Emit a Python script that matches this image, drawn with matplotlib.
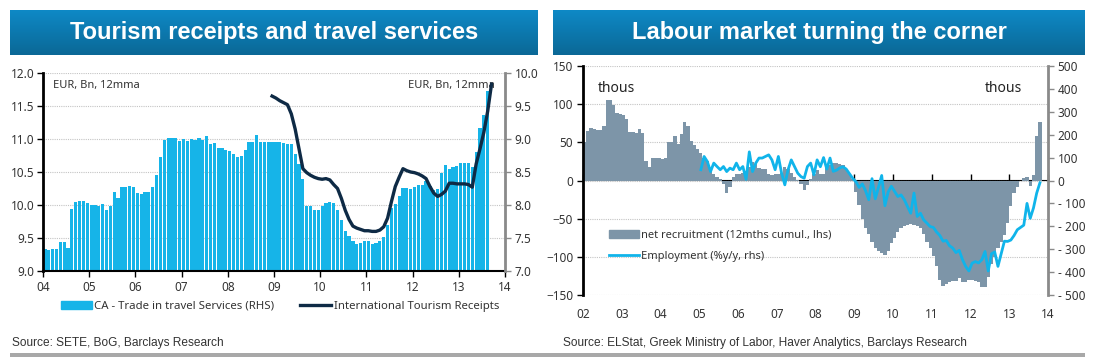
import matplotlib
matplotlib.use("Agg")
import matplotlib.pyplot as plt
import numpy as np
from matplotlib.colors import LinearSegmentedColormap
from matplotlib.ticker import FuncFormatter, MultipleLocator, NullFormatter
from matplotlib.patches import Patch, Rectangle
from matplotlib.lines import Line2D

# ---------------- data ----------------
# Left chart: monthly, Jan 2004 - Aug 2013 (EUR bn, 12mma)
travel_services = [
    9.33, 9.32, 9.33, 9.34, 9.44, 9.44, 9.35, 9.94, 10.04, 10.06, 10.06, 10.03,
    10.00, 10.00, 9.99, 10.02, 9.93, 9.99, 10.20, 10.11, 10.27, 10.28, 10.29, 10.28,
    10.18, 10.17, 10.20, 10.19, 10.27, 10.46, 10.73, 10.98, 11.02, 11.02, 11.01, 10.97,
    11.00, 10.97, 11.00, 10.98, 11.01, 10.98, 11.05, 10.93, 10.94, 10.86, 10.86, 10.84,
    10.82, 10.78, 10.73, 10.74, 10.84, 10.95, 10.95, 11.06, 10.96, 10.96, 10.95, 10.95,
    10.95, 10.96, 10.94, 10.93, 10.92, 10.77, 10.62, 10.40, 9.98, 9.98, 9.93, 9.93,
    9.98, 10.03, 10.05, 10.03, 9.92, 9.77, 9.61, 9.53, 9.45, 9.41, 9.43, 9.46,
    9.45, 9.41, 9.43, 9.45, 9.51, 9.70, 9.95, 10.02, 10.14, 10.26, 10.26, 10.24,
    10.28, 10.30, 10.30, 10.36, 10.29, 10.23, 10.24, 10.48, 10.60, 10.54, 10.57, 10.59,
    10.63, 10.64, 10.64, 10.58, 10.81, 11.16, 11.37, 11.73,
]
travel_start = 2004.0
# monthly, Dec 2008 - Sep 2013
tourism_receipts = [
    9.65, 9.62, 9.58, 9.55, 9.52, 9.38, 9.15, 8.85, 8.55, 8.49, 8.45, 8.42, 8.40,
    8.39, 8.40, 8.38, 8.31, 8.25, 8.10, 7.92, 7.78, 7.68, 7.65, 7.63, 7.61,
    7.61, 7.60, 7.60, 7.62, 7.67, 7.80, 8.05, 8.28, 8.42, 8.55, 8.52, 8.50,
    8.49, 8.47, 8.44, 8.40, 8.28, 8.18, 8.13, 8.16, 8.21, 8.33, 8.33, 8.32,
    8.32, 8.32, 8.31, 8.27, 8.62, 8.85, 9.10, 9.42, 9.83,
]
receipts_start = 2008 + 11 / 12
left_years = list(range(2004, 2015))
left_year_labels = ["04", "05", "06", "07", "08", "09", "10", "11", "12", "13", "14"]

# Right chart: monthly, Jan 2002 - Oct 2013 (thous)
net_recruitment = [
    51, 65, 69, 67, 66, 66, 72, 105, 106, 99, 89, 87,
    86, 80, 63, 63, 62, 67, 62, 25, 18, 29, 30, 29,
    28, 29, 50, 51, 58, 48, 61, 77, 71, 52, 47, 41,
    36, 30, 25, 15, 8, 4, 2, -5, -17, -9, 4, 8,
    8, 10, 12, 18, 24, 22, 16, 15, 15, 8, 7, 8,
    8, 10, 18, 15, 10, 5, 1, -4, -12, -6, 2, 8,
    14, 8, 8, 18, 20, 23, 23, 22, 20, 15, 8, 2,
    -15, -32, -50, -62, -70, -80, -88, -93, -95, -97, -92, -82,
    -75, -68, -62, -60, -58, -57, -58, -60, -62, -70, -80, -88,
    -99, -112, -130, -138, -135, -133, -132, -132, -128, -133, -133, -131,
    -131, -132, -133, -139, -139, -126, -110, -100, -88, -80, -71, -56,
    -34, -17, -8, -1, 3, 4, -7, 7, 58, 77,
]
recruit_start = 2002.0
# monthly, Jan 2005 - Oct 2013 (rhs)
employment = [
    47, 105, 83, 39, 76, 61, 47, 61, 39, 54, 47, 76,
    47, 61, 5, 125, 39, 76, 98, 98, 105, 112, 90, 47,
    105, 32, -19, 47, 90, 61, 32, 17, 10, 61, 76, 25,
    90, 60, 100, 50, 98, 40, 45, 55, 60, 50, 30, 10,
    -5, -30, -15, -45, -84, 8, -80, -30, 22, -110, -50, -25,
    -48, -70, -63, -84, -114, -143, -55, -157, -143, -172, -186, -201,
    -205, -225, -240, -265, -262, -285, -295, -315, -305, -345, -375, -395,
    -361, -354, -360, -346, -310, -395, -320, -312, -375, -320, -265, -266,
    -260, -240, -215, -205, -195, -100, -165, -120, -55, -10,
]
employment_start = 2005.0
right_years = list(range(2002, 2015))
right_year_labels = ["02", "03", "04", "05", "06", "07", "08", "09", "10", "11", "12", "13", "14"]

# ---------------- style ----------------
W, H = 1095, 358
TICKFONT = "Noto Sans"
SRCFONT = "Liberation Sans"
CYAN = "#16b4e8"
NAVY = "#0e2a45"
SLATE = "#7d95a8"
LINECYAN = "#10b4ea"
GRID = "#c4c4c4"
TXT = "#333333"

fig = plt.figure(figsize=(W / 100, H / 100), dpi=100)


def rect(x0, y0, x1, y1):
    return [x0 / W, 1 - y1 / H, (x1 - x0) / W, (y1 - y0) / H]


def title_box(x0, x1, y0, y1, text):
    ax = fig.add_axes(rect(x0, y0, x1, y1))
    grad = np.linspace(0, 1, 100).reshape(-1, 1)
    cmap = LinearSegmentedColormap.from_list("g", ["#0e89c6", "#0b6896"])
    ax.imshow(grad, aspect="auto", cmap=cmap, extent=[0, 1, 0, 1])
    ax.set_xlim(0, 1)
    ax.set_ylim(0, 1)
    ax.axis("off")
    ax.text(0.5, 0.5, text, color="white", fontsize=17, fontweight="bold",
            family=SRCFONT, ha="center", va="center")


title_box(10, 538, 10, 55, "Tourism receipts and travel services")
title_box(553, 1085, 10, 55, "Labour market turning the corner")

# ---------------- left chart ----------------
ax1 = fig.add_axes(rect(43, 73, 505, 271))
tx = travel_start + (np.arange(len(travel_services)) + 0.5) / 12
ax1.bar(tx, travel_services, width=0.82 / 12, color=CYAN, zorder=2)
ax1.set_xlim(2004, 2014)
ax1.set_ylim(9.0, 12.0)
ax1.yaxis.set_major_locator(MultipleLocator(0.5))
ax1.yaxis.set_major_formatter(FuncFormatter(lambda v, p: f"{v:.1f}"))
ax1.set_axisbelow(True)
ax1.yaxis.grid(True, linestyle=(0, (1, 1)), color=GRID, linewidth=0.8)
ax1.set_xticks(left_years)
ax1.set_xticklabels(left_year_labels)
for s in ["top", "right"]:
    ax1.spines[s].set_visible(False)
ax1.spines["left"].set_linewidth(2)
ax1.spines["left"].set_color("black")
ax1.spines["bottom"].set_linewidth(1.5)
ax1.spines["bottom"].set_color("black")
ax1.tick_params(axis="y", length=4, width=1, colors="black", labelcolor=TXT,
                labelsize=8.5, pad=2)
ax1.tick_params(axis="x", length=4, width=1, colors="black", labelcolor=TXT,
                labelsize=8.5, pad=3)
for lab in ax1.get_xticklabels() + ax1.get_yticklabels():
    lab.set_family(TICKFONT)

ax2 = ax1.twinx()
rx = receipts_start + (np.arange(len(tourism_receipts)) + 0.5) / 12
ax2.plot(rx, tourism_receipts, color=NAVY, linewidth=2.4, zorder=3)
ax2.set_ylim(7.0, 10.0)
ax2.yaxis.set_major_locator(MultipleLocator(0.5))
ax2.yaxis.set_major_formatter(FuncFormatter(lambda v, p: f"{v:.1f}"))
for s in ["top", "left", "bottom"]:
    ax2.spines[s].set_visible(False)
ax2.spines["right"].set_linewidth(2)
ax2.spines["right"].set_color("#8a8a8a")
ax2.tick_params(axis="y", length=4, width=1, colors="#8a8a8a", labelcolor=TXT,
                labelsize=8.5, pad=3)
for lab in ax2.get_yticklabels():
    lab.set_family(TICKFONT)

ax1.text(0.022, 0.965, "EUR, Bn, 12mma", transform=ax1.transAxes, fontsize=8,
         family=TICKFONT, color=TXT, ha="left", va="top")
ax1.text(0.978, 0.965, "EUR, Bn, 12mma", transform=ax1.transAxes, fontsize=8,
         family=TICKFONT, color=TXT, ha="right", va="top")

leg1 = fig.legend(
    [Patch(color=CYAN), Line2D([], [], color=NAVY, linewidth=2.4)],
    ["CA - Trade in travel Services (RHS)", "International Tourism Receipts"],
    loc="center", bbox_to_anchor=(280 / W, 1 - 306 / H), ncol=2, frameon=False,
    prop={"family": TICKFONT, "size": 8.2}, handlelength=2.7, handletextpad=0.2,
    columnspacing=2.3, borderpad=0,
)
for t in leg1.get_texts():
    t.set_color(TXT)

# ---------------- right chart ----------------
ax3 = fig.add_axes(rect(583, 66, 1048, 295))
bx = recruit_start + (np.arange(len(net_recruitment)) + 0.5) / 12
ax3.bar(bx, net_recruitment, width=1 / 12, color=SLATE, linewidth=0, zorder=2)
ax3.set_xlim(2002, 2014)
ax3.set_ylim(-150, 150)
ax3.yaxis.set_major_locator(MultipleLocator(50))
ax3.set_axisbelow(True)
ax3.yaxis.grid(True, linestyle=(0, (1, 1)), color=GRID, linewidth=0.8)
ax3.set_xticks(right_years)
ax3.set_xticklabels(right_year_labels)
for s in ["top", "right", "bottom"]:
    ax3.spines[s].set_visible(False)
ax3.spines["left"].set_linewidth(2)
ax3.spines["left"].set_color("black")
ax3.tick_params(axis="y", length=4, width=1, colors="black", labelcolor=TXT,
                labelsize=8.5, pad=3)
ax3.tick_params(axis="x", length=0, labelcolor=TXT, labelsize=8.5, pad=9)
for lab in ax3.get_xticklabels() + ax3.get_yticklabels():
    lab.set_family(TICKFONT)

sec = ax3.secondary_xaxis(0.5)
sec.set_xticks(right_years)
sec.xaxis.set_major_formatter(NullFormatter())
sec.tick_params(axis="x", length=4, width=1, colors="black")
sec.spines["bottom"].set_linewidth(2)
sec.spines["bottom"].set_color("black")

ax4 = ax3.twinx()
ex = employment_start + (np.arange(len(employment)) + 0.5) / 12
ax4.plot(ex, employment, color=LINECYAN, linewidth=2, zorder=3)
ax4.set_ylim(-500, 500)
ax4.yaxis.set_major_locator(MultipleLocator(100))
ax4.yaxis.set_major_formatter(FuncFormatter(
    lambda v, p: f"- {abs(int(v))}" if v < 0 else f"{int(v)}"))
for s in ["top", "left", "bottom"]:
    ax4.spines[s].set_visible(False)
ax4.spines["right"].set_linewidth(2)
ax4.spines["right"].set_color("#8a8a8a")
ax4.tick_params(axis="y", length=4, width=1, colors="#8a8a8a", labelcolor=TXT,
                labelsize=8.5, pad=3)
for lab in ax4.get_yticklabels():
    lab.set_family(TICKFONT)

ax3.text(0.032, 0.935, "thous", transform=ax3.transAxes, fontsize=10,
         family=TICKFONT, color="#222222", ha="left", va="top")
ax3.text(0.945, 0.935, "thous", transform=ax3.transAxes, fontsize=10,
         family=TICKFONT, color="#222222", ha="right", va="top")

leg2 = ax4.legend(
    [Patch(color=SLATE), Line2D([], [], color=LINECYAN, linewidth=2)],
    ["net recruitment (12mths cumul., lhs)", "Employment (%y/y, rhs)"],
    loc="center left", bbox_to_anchor=((609 - 583) / 465, (295 - 245.5) / 229),
    frameon=False, prop={"family": TICKFONT, "size": 8}, handlelength=2.7,
    handletextpad=0.15, labelspacing=0.9, borderpad=0, borderaxespad=0,
)
for t in leg2.get_texts():
    t.set_color(TXT)

# ---------------- footer ----------------
fig.text(12 / W, 1 - 343 / H, "Source: SETE, BoG, Barclays Research", fontsize=8.6,
         family=SRCFONT, color=TXT, ha="left", va="center")
fig.text(563 / W, 1 - 343 / H,
         "Source: ELStat, Greek Ministry of Labor, Haver Analytics, Barclays Research",
         fontsize=8.6, family=SRCFONT, color=TXT, ha="left", va="center")
fig.add_artist(Rectangle((10 / W, 1 - 357 / H), 1075 / W, 4 / H,
                         transform=fig.transFigure, color="#a8a8a8", linewidth=0))

fig.savefig("out.png", dpi=100)
